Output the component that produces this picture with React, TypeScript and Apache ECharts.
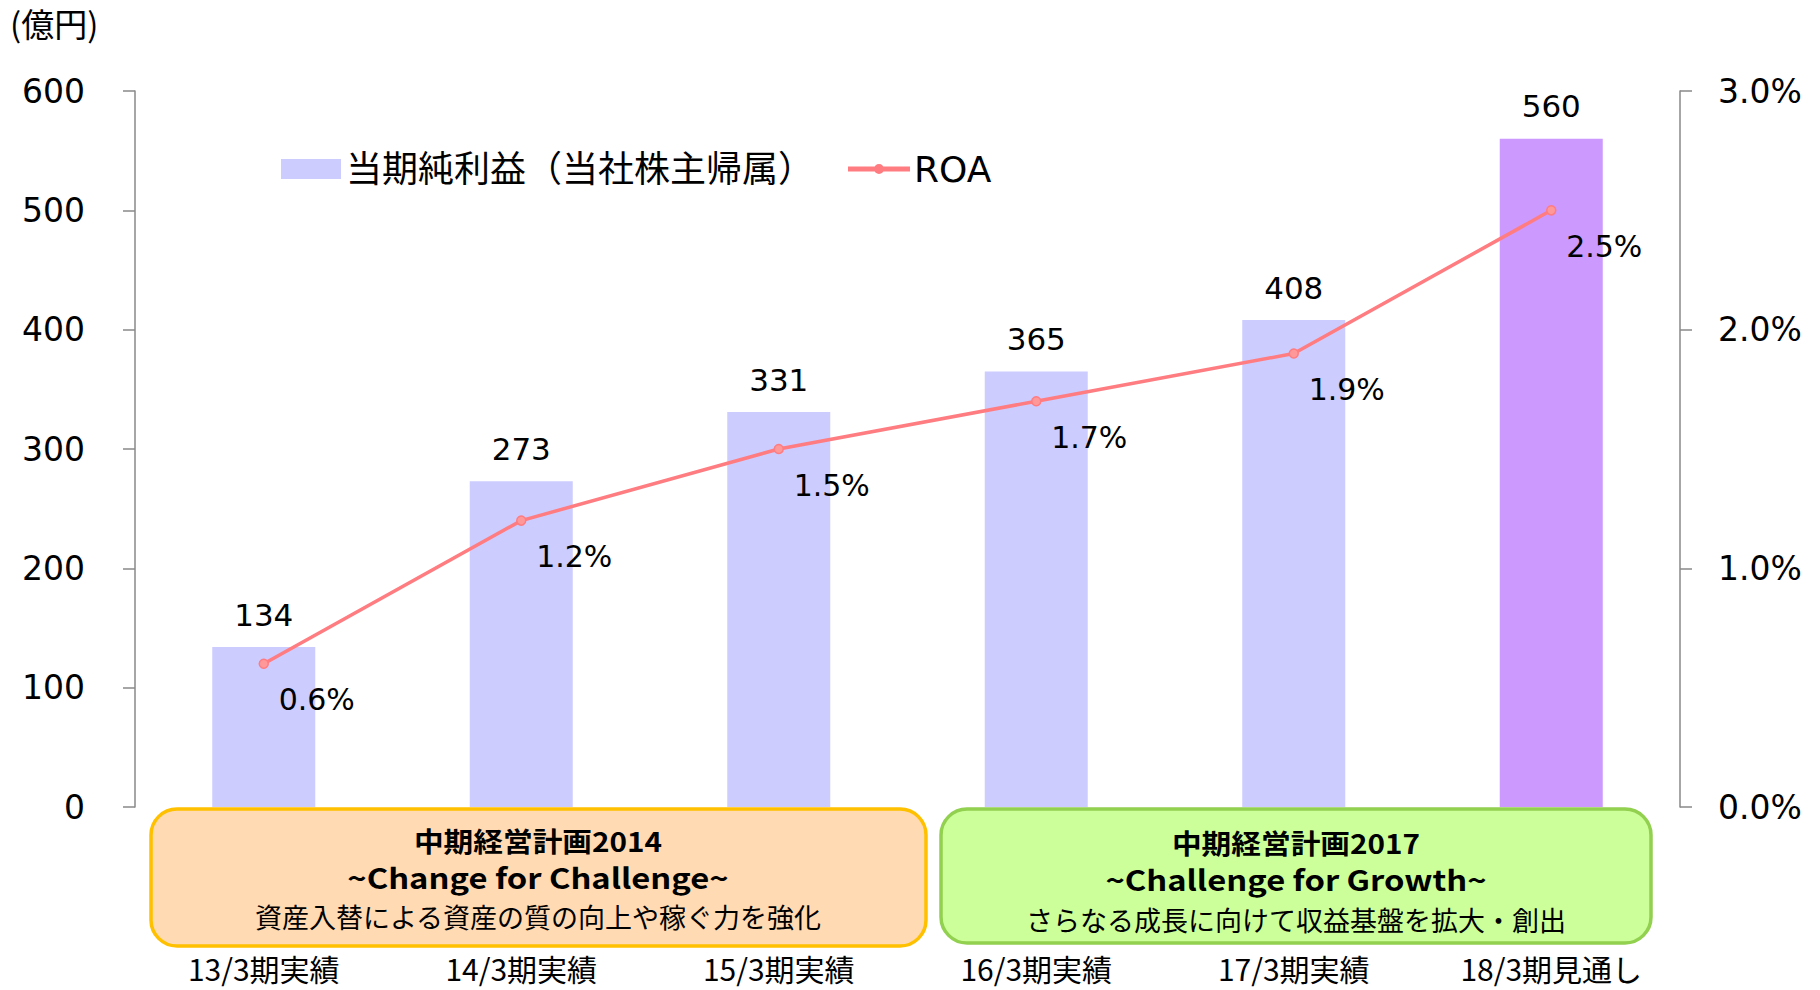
import React, { useEffect, useRef } from "react";
import * as echarts from "echarts";

const categories = ["13/3期実績", "14/3期実績", "15/3期実績", "16/3期実績", "17/3期実績", "18/3期見通し"];
const netIncome = [134, 273, 331, 365, 408, 560];
const roa = [0.6, 1.2, 1.5, 1.7, 1.9, 2.5];
const barColors = ["#CCCCFF", "#CCCCFF", "#CCCCFF", "#CCCCFF", "#CCCCFF", "#CC99FF"];
const leftTicks = [0, 100, 200, 300, 400, 500, 600];
const plan2014 = ["中期経営計画2014", "~Change for Challenge~", "資産入替による資産の質の向上や稼ぐ力を強化"];
const plan2017 = ["中期経営計画2017", "~Challenge for Growth~", "さらなる成長に向けて収益基盤を拡大・創出"];

const LATIN = "'DejaVu Sans', 'Noto Sans CJK JP', sans-serif";
const CJK = "'Noto Sans CJK JP', 'Noto Sans', sans-serif";

const ROA_ICON =
  "path://M0,2.5L60,2.5L60,5.5L0,5.5Z M26,4A4,4 0 1 1 34,4A4,4 0 1 1 26,4Z";

export default function App() {
  const ref = useRef<HTMLDivElement>(null);
  useEffect(() => {
    document.body.style.margin = "0";
    const chart = echarts.init(ref.current!, null, { renderer: "svg" });
    const lineFmt = [
      { size: 27, bold: true, sx: 1.1 },
      { size: 28, bold: true, sx: 1.17 },
      { size: 27, bold: false, sx: 1.0 },
    ];
    const boxText = (lines: string[], cx: number, ys: number[]) =>
      lines.map((t, i) => ({
        type: "text",
        x: cx,
        y: ys[i],
        scaleX: lineFmt[i].sx,
        z: 10,
        style: {
          text: t,
          fill: "#000",
          font: `${lineFmt[i].bold ? "bold " : ""}${lineFmt[i].size}px ${CJK}`,
          textAlign: "center",
          textVerticalAlign: "middle",
        },
      }));
    chart.setOption({
      animation: false,
      textStyle: { fontFamily: LATIN },
      grid: { left: 135, right: 140, top: 91, bottom: 183 },
      legend: {
        left: 276,
        top: 146,
        itemWidth: 60,
        itemHeight: 20,
        itemGap: 34,
        symbolKeepAspect: true,
        textStyle: { fontSize: 36, color: "#000", fontFamily: LATIN, padding: [0, 0, 0, 0] },
        data: [
          { name: "当期純利益（当社株主帰属）", icon: "rect", itemStyle: { color: "#CCCCFF" } },
          { name: "ROA", icon: ROA_ICON, itemStyle: { color: "#FF7C80" } },
        ],
      },
      xAxis: {
        type: "category",
        data: categories,
        axisLine: { show: false },
        axisTick: { show: false },
        axisLabel: { margin: 146, fontSize: 30, color: "#000", fontFamily: CJK },
      },
      yAxis: [
        {
          type: "value",
          min: 0,
          max: 600,
          interval: 100,
          position: "left",
          axisLine: { show: true, lineStyle: { color: "#888", width: 1.5 } },
          axisTick: { show: true, length: 12, lineStyle: { color: "#888", width: 1.5 } },
          axisLabel: {
            margin: 50,
            fontSize: 33,
            color: "#000",
            formatter: (v: number) => (leftTicks.includes(v) ? String(v) : ""),
          },
          splitLine: { show: false },
        },
        {
          type: "value",
          min: 0,
          max: 3,
          interval: 1,
          position: "right",
          axisLine: { show: true, lineStyle: { color: "#888", width: 1.5 } },
          axisTick: { show: true, length: 12, lineStyle: { color: "#888", width: 1.5 } },
          axisLabel: {
            margin: 38,
            fontSize: 33,
            color: "#000",
            formatter: (v: number) => v.toFixed(1) + "%",
          },
          splitLine: { show: false },
        },
      ],
      series: [
        {
          name: "当期純利益（当社株主帰属）",
          type: "bar",
          yAxisIndex: 0,
          barWidth: "40%",
          data: netIncome.map((v, i) => ({ value: v, itemStyle: { color: barColors[i] } })),
          label: {
            show: true,
            position: "top",
            distance: 17,
            fontSize: 31,
            color: "#000",
          },
        },
        {
          name: "ROA",
          type: "line",
          yAxisIndex: 1,
          data: roa,
          color: "#FF7C80",
          lineStyle: { color: "#FF7C80", width: 3.5 },
          symbol: "circle",
          symbolSize: 9,
          itemStyle: { color: "#FF9999", borderColor: "#FF7C80", borderWidth: 1.5 },
          label: {
            show: true,
            position: "inside",
            offset: [53, 36],
            fontSize: 30,
            color: "#000",
            formatter: (p: any) => p.value.toFixed(1) + "%",
          },
          z: 5,
        },
      ],
      graphic: [
        {
          type: "text",
          left: 10,
          top: 6,
          style: { text: "(億円)", fill: "#000", font: `33px ${CJK}` },
        },
        {
          type: "rect",
          shape: { x: 151, y: 809, width: 775, height: 137, r: 26 },
          style: { fill: "#FFDAB3", stroke: "#FFC000", lineWidth: 3.5 },
          z: 9,
        },
        {
          type: "rect",
          shape: { x: 941, y: 809, width: 710, height: 134, r: 26 },
          style: { fill: "#CCFF99", stroke: "#92D050", lineWidth: 3.5 },
          z: 9,
        },
        ...boxText(plan2014, 538, [840, 877, 916]),
        ...boxText(plan2017, 1296, [842, 879, 919]),
      ],
    });
    return () => chart.dispose();
  }, []);
  return <div ref={ref} style={{ width: 1820, height: 990 }} />;
}
